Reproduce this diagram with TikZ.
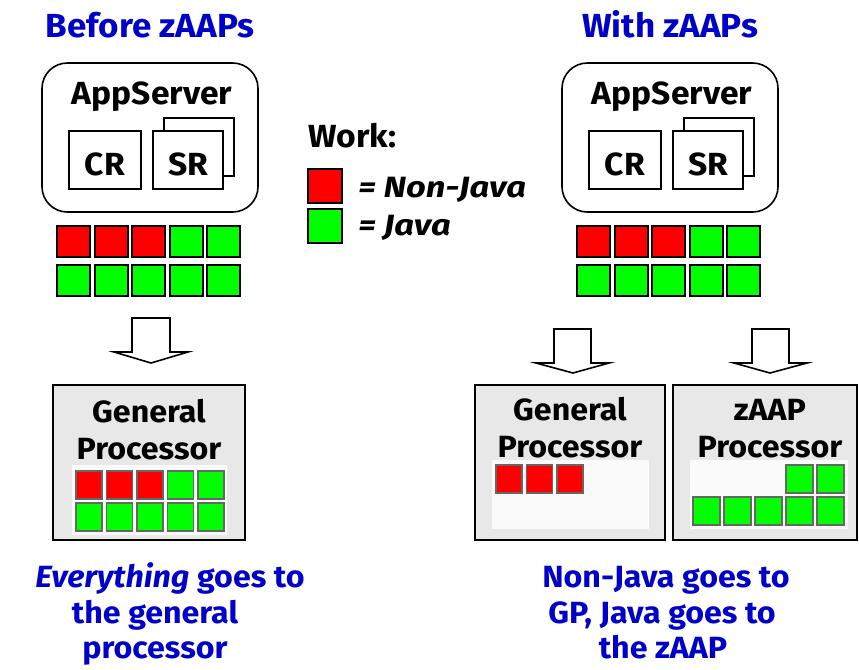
\documentclass[tikz,border=0pt]{standalone}
\usepackage{fontspec}
\setmainfont{Fira Sans}[FakeStretch=1.05]
\definecolor{tblue}{RGB}{0,0,200}
\definecolor{wred}{RGB}{255,0,0}
\definecolor{wgreen}{RGB}{0,255,0}
\definecolor{pgray}{RGB}{232,232,232}
\definecolor{panel}{RGB}{250,250,250}
\begin{document}
\begin{tikzpicture}[x=0.75pt,y=-0.75pt,line join=miter,
  ttl/.style={font=\bfseries\fontsize{25}{30}\selectfont,text=tblue,anchor=base},
  big/.style={font=\bfseries\fontsize{24}{28}\selectfont,anchor=base},
  proc/.style={font=\bfseries\fontsize{23}{28}\selectfont,anchor=base},
  bot/.style={font=\bfseries\fontsize{23}{28}\selectfont,text=tblue,anchor=base},
  leg/.style={font=\bfseries\itshape\fontsize{22}{26}\selectfont,anchor=base west},
  sq/.style={draw=black,line width=1.5pt},
  psq/.style={draw=black!60,line width=1.2pt},
  box/.style={draw=black,line width=1.2pt},
  pbox/.style={draw=black,line width=1.5pt,fill=pgray},
  blk/.style={draw=black,line width=1.2pt,fill=white}]
\useasboundingbox (0,0) rectangle (859,669);
% titles
\node[ttl] (t1) at (150,37) {Before zAAPs};
\node[ttl] (t2) at (670,37) {With zAAPs};
% AppServer blocks
\foreach \dx/\nm in {0/L,520/R}{
  \begin{scope}[xshift=\dx*0.75pt]
    \draw[box,rounded corners=19pt,fill=white] (42,63) rectangle (258,212);
    \node[big] (as\nm) at (152,104) {AppServer};
    \draw[box,fill=white] (164,118) rectangle (234,176);
    \draw[box,fill=white] (153,131) rectangle (223,189);
    \node[big] (sr\nm) at (188,175) {SR};
    \draw[box,fill=white] (69,131) rectangle (141,189);
    \node[big] (cr\nm) at (105,175) {CR};
    \foreach \i/\c in {0/wred,1/wred,2/wred,3/wgreen,4/wgreen}
      \draw[sq,fill=\c] (57+\i*37.6,226) rectangle +(33,31);
    \foreach \i in {0,...,4}
      \draw[sq,fill=wgreen] (57+\i*37.6,265) rectangle +(33,31);
  \end{scope}
}
% legend
\node[big,anchor=base west,inner xsep=0pt] (work) at (308,147) {Work:};
\draw[sq,fill=wred] (308,169) rectangle (342,203);
\draw[sq,fill=wgreen] (308,209) rectangle (342,243);
\node[leg,inner xsep=0pt] (nj) at (358,197) {\scalebox{1.12}[1]{= Non-Java}};
\node[leg,inner xsep=0pt] (jv) at (358,235) {\scalebox{1.12}[1]{= Java}};
% block arrows
\draw[blk] (132,318) -- (170,318) -- (170,352) -- (188,352) -- (151,363) -- (114,352) -- (132,352) -- cycle;
\draw[blk] (554,329) -- (591,329) -- (591,363) -- (609,363) -- (573,373) -- (536,363) -- (554,363) -- cycle;
\draw[blk] (752,329) -- (789,329) -- (789,363) -- (807,363) -- (770,373) -- (734,363) -- (752,363) -- cycle;
% left processor
\draw[pbox] (53,385) rectangle (245,540);
\node[proc] (gp1) at (149,422) {General};
\node[proc] (gp1b) at (149,459) {Processor};
\fill[panel] (72,465) rectangle (227,535);
\foreach \i/\c in {0/wred,1/wred,2/wred,3/wgreen,4/wgreen}
  \draw[psq,fill=\c] (76+\i*30.5,471) rectangle +(26,28);
\foreach \i in {0,...,4}
  \draw[psq,fill=wgreen] (76+\i*30.5,503) rectangle +(26,28);
% right general processor
\draw[pbox] (475,385) rectangle (665,540);
\node[proc] (gp2) at (570,420) {General};
\node[proc] (gp2b) at (570,457) {Processor};
\fill[panel] (492,460) rectangle (649,529);
\foreach \i in {0,1,2}
  \draw[psq,fill=wred] (496+\i*30.5,465) rectangle +(26,28);
% zAAP processor
\draw[pbox] (673,385) rectangle (857,540);
\node[proc] (zp) at (770,420) {zAAP};
\node[proc] (zpb) at (770,457) {Processor};
\fill[panel] (690,460) rectangle (848,529);
\foreach \i in {3,4}
  \draw[psq,fill=wgreen] (693+\i*31,465) rectangle +(27,28);
\foreach \i in {0,...,4}
  \draw[psq,fill=wgreen] (693+\i*31,497) rectangle +(27,28);
% bottom texts
\node[bot] (b1) at (170,587) {\textit{Everything} goes to};
\node[bot] (b2) at (155,623) {the general};
\node[bot] (b3) at (155,658) {processor};
\node[bot] (c1) at (666,587) {Non-Java goes to};
\node[bot] (c2) at (662,623) {GP, Java goes to};
\node[bot] (c3) at (663,658) {the zAAP};
\end{tikzpicture}
\end{document}
